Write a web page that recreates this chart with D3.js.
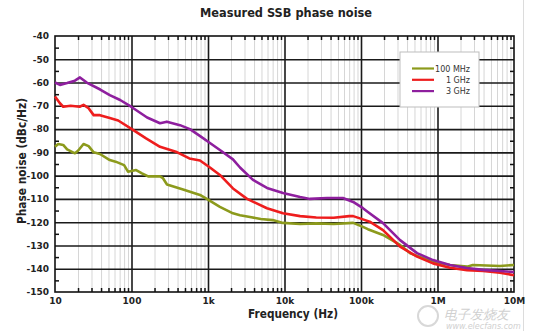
<!DOCTYPE html>
<html>
<head>
<meta charset="utf-8">
<script src="https://cdn.jsdelivr.net/npm/d3@7"></script>
<style>
  body { margin: 0; background: #fff; }
  text { font-family: Verdana, "DejaVu Sans", sans-serif; }
</style>
</head>
<body>
<div id="chart"></div>
<script>
// data: [frequency Hz, dBc/Hz]
const freq100M = [10, 11, 12.8, 14.4, 18.2, 20, 23.6, 27.5, 32, 38.7, 52, 62, 80, 90, 115, 137, 165, 236, 258, 291, 472, 786, 1000, 1430, 2120, 2620, 3540, 4900, 7000, 9550, 16000, 26000, 44000, 79000, 106000, 123000, 194000, 324000, 440000, 873000, 1455000, 2430000, 2900000, 6560000, 10000000];
const pn100M   = [-87.6, -86.4, -86.8, -88.7, -90.4, -89.3, -86.4, -87.3, -90, -90.7, -93.3, -94, -95.5, -98.3, -97.6, -99, -100.3, -100.3, -101.1, -103.8, -106, -108.3, -110.3, -113.4, -116.2, -117, -117.8, -118.6, -119.1, -120.3, -120.8, -120.5, -120.8, -120.3, -122, -123, -125.5, -129.8, -133.4, -137, -138.4, -139.1, -138.4, -138.8, -138.4];

const freq1G = [10, 11.6, 12.8, 16, 21, 23.6, 27.5, 32, 38.7, 52, 67, 101, 155, 236, 380, 570, 786, 1060, 1430, 2120, 3240, 5900, 9550, 16000, 26000, 44000, 70000, 79000, 106000, 130000, 194000, 324000, 540000, 873000, 1455000, 2430000, 3940000, 6560000, 10000000];
const pn1G   = [-66, -68.9, -70.4, -70, -70.4, -69.6, -71, -74, -74, -75.2, -76.3, -80, -84, -87.6, -89.7, -92.6, -93.5, -96.5, -99.7, -105.5, -110, -114, -116.2, -117.4, -118, -118.1, -117.4, -117.4, -118.8, -119.8, -123.4, -130.5, -134.8, -137.7, -139.6, -140.6, -141, -141.7, -142.8];

const freq3G = [10, 11.6, 14.4, 18.2, 21.2, 26, 39, 52, 71, 100, 160, 236, 290, 430, 580, 790, 1060, 1430, 2120, 2620, 3870, 5900, 9550, 16000, 21500, 36000, 58000, 79000, 106000, 123000, 194000, 324000, 540000, 873000, 1455000, 2430000, 3940000, 6560000, 10000000];
const pn3G   = [-60, -61, -60.2, -59.2, -57.8, -60, -63, -65.4, -67.5, -70.5, -75, -77.5, -76.8, -78.3, -80, -83, -86, -89, -93, -96.5, -101.8, -105.3, -107.5, -109.2, -110, -109.6, -109.6, -111.3, -114, -115.6, -120.4, -127.7, -133.3, -136.3, -138.4, -139.7, -140.5, -141, -141.4];

const seriesNames = ["100 MHz", "1 GHz", "3 GHz"];
const seriesColors = ["#8c9a1c", "#ee1d1d", "#8e1f9e"];

const xTickValues = [10, 100, 1e3, 1e4, 1e5, 1e6, 1e7];
const xTickLabels = ["10", "100", "1k", "10k", "100k", "1M", "10M"];
const yTickValues = [-40, -50, -60, -70, -80, -90, -100, -110, -120, -130, -140, -150];

const W = 550, H = 331;
const margin = {top: 36, right: 36, bottom: 39, left: 55},
    width = W - margin.left - margin.right,
    height = H - margin.top - margin.bottom;

const svg = d3.select("#chart")
  .append("svg")
    .attr("width", W)
    .attr("height", H);

// faint border of the source image on the right
svg.append("line")
  .attr("x1", 523.5).attr("x2", 523.5).attr("y1", 0).attr("y2", H)
  .attr("stroke", "#dcdcdc").attr("stroke-width", 1);

const g = svg.append("g")
    .attr("transform", `translate(${margin.left},${margin.top})`);

const x = d3.scaleLog().domain([10, 1e7]).range([0, width]);
const y = d3.scaleLinear().domain([-150, -40]).range([height, 0]);

// minor frequencies 2..9 per decade
const minorX = [];
xTickValues.slice(0, -1).forEach(d => { for (let k = 2; k <= 9; k++) minorX.push(d * k); });
const minorY = d3.range(-145, -40, 10);

// minor vertical grid
g.append("g")
  .attr("transform", `translate(0,${height})`)
  .call(d3.axisBottom(x).tickValues(minorX).tickSize(-height).tickFormat(""))
  .call(a => a.select(".domain").remove())
  .selectAll("line").attr("stroke", "#d6d6d6").attr("stroke-width", 1);

// minor ticks on all four sides
g.append("g").attr("transform", `translate(0,${height})`)
  .call(d3.axisBottom(x).tickValues(minorX).tickSize(-4).tickFormat(""))
  .call(a => a.select(".domain").remove())
  .selectAll("line").attr("stroke", "#111").attr("stroke-width", 1.5);
g.append("g")
  .call(d3.axisTop(x).tickValues(minorX).tickSize(-4).tickFormat(""))
  .call(a => a.select(".domain").remove())
  .selectAll("line").attr("stroke", "#111").attr("stroke-width", 1.5);
g.append("g")
  .call(d3.axisLeft(y).tickValues(minorY).tickSize(-4).tickFormat(""))
  .call(a => a.select(".domain").remove())
  .selectAll("line").attr("stroke", "#111").attr("stroke-width", 1.5);
g.append("g").attr("transform", `translate(${width},0)`)
  .call(d3.axisRight(y).tickValues(minorY).tickSize(-4).tickFormat(""))
  .call(a => a.select(".domain").remove())
  .selectAll("line").attr("stroke", "#111").attr("stroke-width", 1.5);

// major grid
g.append("g")
  .attr("transform", `translate(0,${height})`)
  .call(d3.axisBottom(x).tickValues(xTickValues.slice(1, -1)).tickSize(-height).tickFormat(""))
  .call(a => a.select(".domain").remove())
  .selectAll("line").attr("stroke", "#1a1a1a").attr("stroke-width", 1.6);
g.append("g")
  .call(d3.axisLeft(y).tickValues(yTickValues.slice(1, -1)).tickSize(-width).tickFormat(""))
  .call(a => a.select(".domain").remove())
  .selectAll("line").attr("stroke", "#1a1a1a").attr("stroke-width", 1.6);

// frame
g.append("rect")
  .attr("width", width).attr("height", height)
  .attr("fill", "none").attr("stroke", "#111").attr("stroke-width", 1.6);

// tick labels
const yAxis = g.append("g")
  .call(d3.axisLeft(y).tickValues(yTickValues).tickSize(0).tickPadding(6).tickFormat(d => d));
yAxis.select(".domain").remove();
yAxis.selectAll("text")
  .attr("font-family", "Verdana, 'DejaVu Sans', sans-serif")
  .attr("font-size", 9).attr("font-weight", "bold").attr("fill", "#222");

const xAxis = g.append("g")
  .attr("transform", `translate(0,${height})`)
  .call(d3.axisBottom(x).tickValues(xTickValues).tickSize(0).tickPadding(6)
        .tickFormat((d, i) => xTickLabels[i]));
xAxis.select(".domain").remove();
xAxis.selectAll("text")
  .attr("font-family", "Verdana, 'DejaVu Sans', sans-serif")
  .attr("font-size", 9).attr("font-weight", "bold").attr("fill", "#222");

// curves
const series = [
  {name: seriesNames[0], color: seriesColors[0], values: freq100M.map((f, i) => ({f: f, v: pn100M[i]}))},
  {name: seriesNames[1], color: seriesColors[1], values: freq1G.map((f, i) => ({f: f, v: pn1G[i]}))},
  {name: seriesNames[2], color: seriesColors[2], values: freq3G.map((f, i) => ({f: f, v: pn3G[i]}))}
];

const line = d3.line()
  .x(d => x(d.f))
  .y(d => y(d.v));

g.selectAll(".curve")
  .data(series)
  .join("path")
    .attr("class", "curve")
    .attr("fill", "none")
    .attr("stroke", d => d.color)
    .attr("stroke-width", 2.6)
    .attr("stroke-linejoin", "round")
    .attr("d", d => line(d.values));

// legend
const legend = svg.append("g").attr("transform", "translate(400,52)");
legend.append("rect")
  .attr("width", 79).attr("height", 55)
  .attr("fill", "#fff").attr("stroke", "#bdbdbd").attr("stroke-width", 1);
series.forEach((s, i) => {
  const row = legend.append("g").attr("transform", `translate(0,${16.5 + i * 11.3})`);
  row.append("line")
    .attr("x1", 12).attr("x2", 34)
    .attr("stroke", s.color).attr("stroke-width", 2.2);
  row.append("text")
    .attr("x", 70).attr("y", 3)
    .attr("text-anchor", "end")
    .attr("font-family", "Tahoma, 'DejaVu Sans', sans-serif")
    .attr("font-size", 8).attr("fill", "#333")
    .text(s.name);
});

// titles
svg.append("text")
  .attr("x", 286).attr("y", 17)
  .attr("text-anchor", "middle")
  .attr("font-size", 12.5).attr("font-weight", "bold").attr("fill", "#222")
  .attr("textLength", 172).attr("lengthAdjust", "spacingAndGlyphs")
  .text("Measured SSB phase noise");

svg.append("text")
  .attr("x", 293).attr("y", 318)
  .attr("text-anchor", "middle")
  .attr("font-size", 13).attr("font-weight", "bold").attr("fill", "#222")
  .attr("textLength", 90).attr("lengthAdjust", "spacingAndGlyphs")
  .text("Frequency (Hz)");

svg.append("text")
  .attr("transform", "translate(26,161) rotate(-90)")
  .attr("text-anchor", "middle")
  .attr("font-size", 12).attr("font-weight", "bold").attr("fill", "#222")
  .attr("textLength", 126).attr("lengthAdjust", "spacingAndGlyphs")
  .text("Phase noise (dBc/Hz)");

// site watermark, kept below the tick labels
const wm = svg.append("g").attr("fill", "#d0d0d0");
wm.append("circle").attr("cx", 428).attr("cy", 316).attr("r", 10)
  .attr("fill", "none").attr("stroke", "#d8d8d8").attr("stroke-width", 2);
wm.append("text")
  .attr("x", 444).attr("y", 319)
  .attr("font-family", "'Noto Sans CJK SC', sans-serif")
  .attr("font-size", 13).attr("font-style", "italic")
  .text("电子发烧友");
wm.append("text")
  .attr("x", 446).attr("y", 329)
  .attr("font-family", "Verdana, 'DejaVu Sans', sans-serif")
  .attr("font-size", 8).attr("font-style", "italic")
  .text("www.elecfans.com");
</script>
</body>
</html>
